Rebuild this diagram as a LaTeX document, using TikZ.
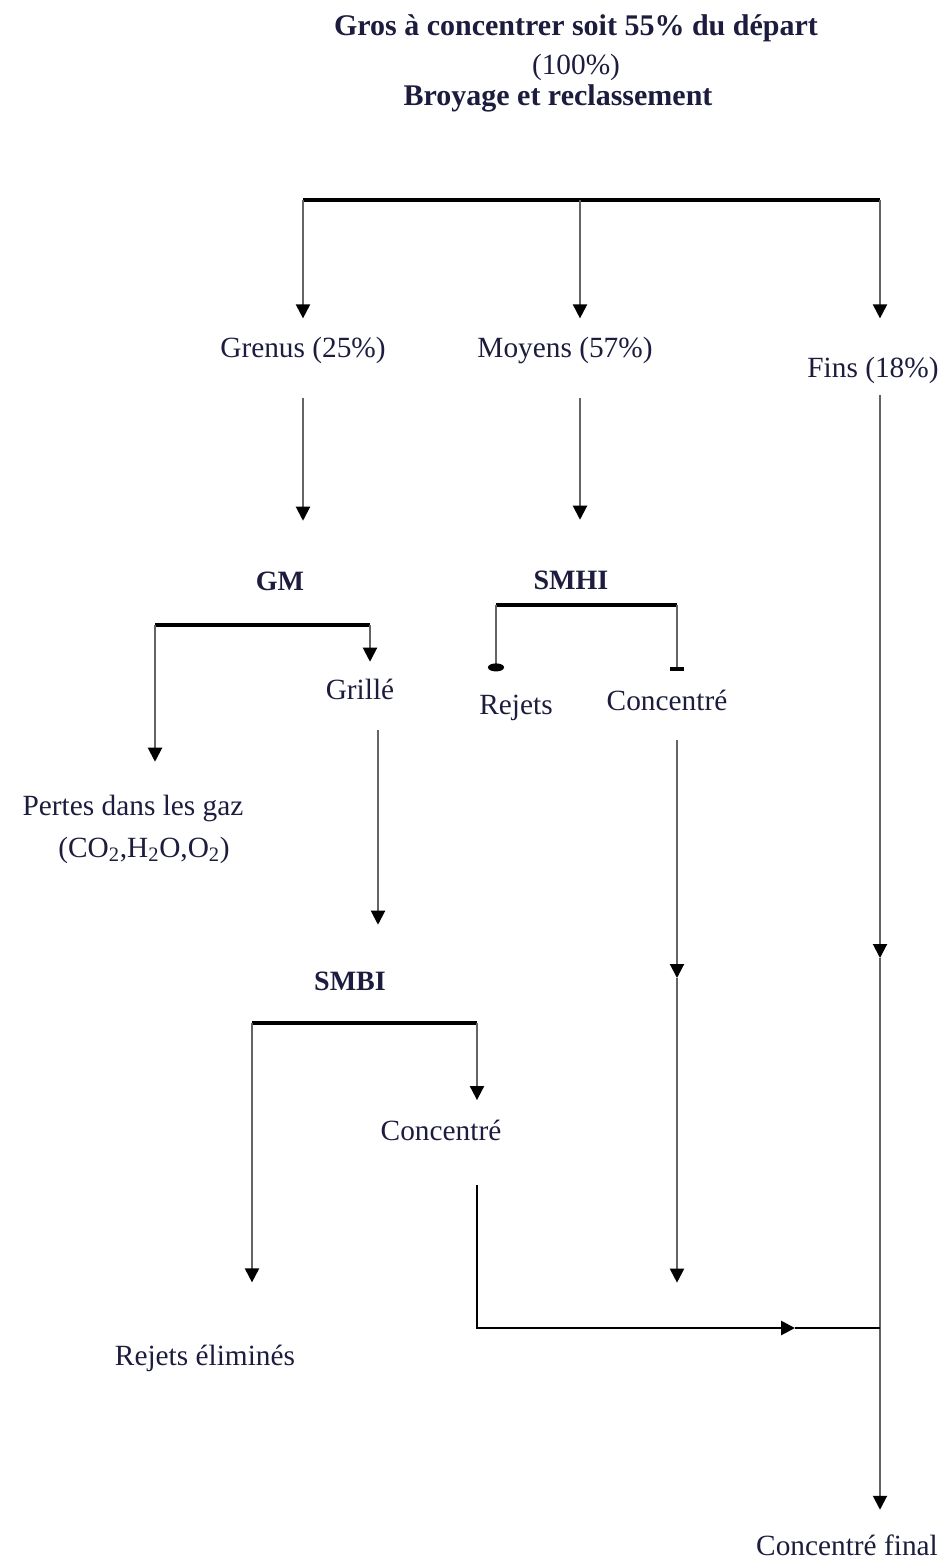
\documentclass[tikz,border=0pt]{standalone}
\usepackage{fontspec}
\setmainfont{Liberation Serif}
\usepackage{tikz}
\usetikzlibrary{arrows.meta}
\definecolor{ink}{RGB}{28,28,62}
\definecolor{wire}{RGB}{100,100,100}
\tikzset{
  lbl/.style={font=\fontsize{22}{26}\selectfont,text=ink,inner sep=0pt,text height=16pt,text depth=5pt},
  head/.style={lbl,font=\fontsize{22.5}{26}\selectfont\bfseries},
  unit/.style={lbl,font=\fontsize{21}{24}\selectfont\bfseries},
  bar/.style={line width=2.9pt,black},
  trunk/.style={line width=2.1pt,black},
  feed/.style={line width=1.5pt,wire,-{Triangle[length=10.5pt,width=10.5pt,black]}},
  sep/.style={line width=1.5pt,wire},
}

\begin{document}
\begin{tikzpicture}[x=0.75pt,y=-0.75pt]
  \useasboundingbox (0,0) rectangle (947,1567);

  \node at(576,28)[head](title){Gros à concentrer soit 55\% du départ};
  \node at(576,67)[lbl](total){(100\%)};
  \node at(558,98)[head](broyage){Broyage et reclassement};

  \coordinate (topL) at (303,200);
  \coordinate (topM) at (580,200);
  \coordinate (topR) at (880,200);

  \node at(303,350)[lbl](grenus){Grenus (25\%)};
  \node at(565,350)[lbl](moyens){Moyens (57\%)};
  \node at(873,370)[lbl](fins){Fins (18\%)};

  \draw[bar] (topL) -- (topR);
  \draw[feed,shorten >=13pt] (topL) -- (grenus.north);
  \draw[feed,shorten >=13pt] (topM) -- (topM |- moyens.north);
  \draw[feed,shorten >=28pt] (topR) -- (topR |- fins.north);

  \node at(280,583)[unit](gm){GM};
  \node at(571,582)[unit](smhi){SMHI};
  \draw[feed,shorten <=25pt,shorten >=36pt] (grenus.south) -- (grenus.south |- gm.north);
  \draw[feed,shorten <=25pt,shorten >=36pt] (topM |- moyens.south) -- (topM |- smhi.north);

  % grenus: GM
  \coordinate (gmL) at (155,625);
  \coordinate (gmR) at (370,625);
  \node at(360,692)[lbl](grille){Grillé};
  \node at(133,808)[lbl](pertes){Pertes dans les gaz};
  \node at(144,850)[lbl](gaz){(CO\textsubscript{2},H\textsubscript{2}O,O\textsubscript{2})};
  \draw[bar] (gmL) -- (gmR);
  \draw[feed,shorten >=24pt] (gmL) -- (gmL |- pertes.north);
  \draw[feed,shorten >=12pt] (gmR) -- (gmR |- grille.north);

  \node at(350,983)[unit](smbi){SMBI};
  \draw[feed,shorten <=18pt,shorten >=33pt] ([xshift=13.5pt]grille.south) -- ([xshift=13.5pt]grille.south |- smbi.north);

  % grille: SMBI
  \coordinate (smbiL) at (252,1023);
  \coordinate (smbiR) at (477,1023);
  \node at(441,1133)[lbl](conc){Concentré};
  \node at(205,1358)[lbl](rejelim){Rejets éliminés};
  \draw[bar] (smbiL) -- (smbiR);
  \draw[feed,shorten >=46pt] (smbiL) -- (smbiL |- rejelim.north);
  \draw[feed,shorten >=14pt] (smbiR) -- (smbiR |- conc.north);

  % moyens: SMHI
  \coordinate (smhiL) at (496,605);
  \coordinate (smhiR) at (677,605);
  \node at(516,707)[lbl](rejets){Rejets};
  \node at(667,703)[lbl](concB){Concentré};
  \draw[bar] (smhiL) -- (smhiR);
  \draw[sep,-{Circle[length=6pt,width=12pt,black]},shorten >=16pt] (smhiL) -- (smhiL |- rejets.north);
  \draw[sep,-{Bar[width=11pt,line width=3pt,black]},shorten >=13pt] (smhiR) -- (smhiR |- concB.north);

  % collecting the concentrates
  \node at(847,1548)[lbl](final){Concentré final};
  \coordinate (join) at (880,1328);
  \coordinate (midL) at (880,958);
  \coordinate (midK) at (677,978);
  \coordinate (midM) at (795,1328);
  \draw[feed,shorten <=8pt] (topR |- fins.south) -- (midL);
  \draw[feed,shorten >=18pt] (midL) -- (topR |- final.north);
  \draw[feed,shorten <=17pt] (smhiR |- concB.south) -- (midK);
  \draw[feed,shorten >=34pt] (midK) -- (smhiR |- join);
  \draw[trunk,-{Triangle[length=10.5pt,width=10.5pt]},shorten <=28pt] (smbiR |- conc.south) |- (midM);
  \draw[trunk] (midM) -- (join);
\end{tikzpicture}
\end{document}
